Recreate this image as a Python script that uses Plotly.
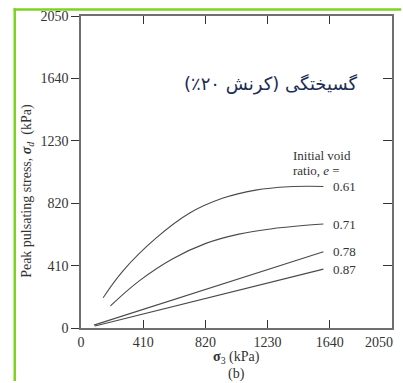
import plotly.graph_objects as go

# Confining pressure sigma_3 (kPa) and peak pulsating stress sigma_d (kPa)
# for each initial void ratio
void_ratios = ["0.61", "0.71", "0.78", "0.87"]

x_061 = [146, 277, 496, 714, 932, 1151, 1369, 1598]
y_061 = [199, 376, 592, 754, 852, 906, 928, 930]

x_071 = [194, 386, 605, 823, 1041, 1260, 1430, 1598]
y_071 = [145, 311, 455, 556, 617, 652, 670, 683]

x_078 = [85, 1598]
y_078 = [19, 501]

x_087 = [92, 1598]
y_087 = [13, 387]

tick_vals = [0, 410, 820, 1230, 1640, 2050]
tick_text = ["0", "410", "820", "1230", "1640", ""]

series = [(x_061, y_061), (x_071, y_071), (x_078, y_078), (x_087, y_087)]

SERIF = "Liberation Serif, Times New Roman, serif"
TXT = "#333333"
AXIS = "#6f6f6f"

fig = go.Figure()
for (xs, ys), lab in zip(series, void_ratios):
    fig.add_trace(go.Scatter(
        x=xs, y=ys, mode="lines", name=lab,
        line=dict(color="#4a4a4a", width=1.1, shape="spline", smoothing=1.1),
        showlegend=False, hoverinfo="skip",
    ))

# invisible traces carrying the right-hand inner ticks and the last x label
fig.add_trace(go.Scatter(x=[None], y=[None], yaxis="y2", showlegend=False))
fig.add_trace(go.Scatter(x=[None], y=[None], xaxis="x2", showlegend=False))

# curve labels at the end of each line
for (xs, ys), lab in zip(series, void_ratios):
    fig.add_annotation(x=1650, y=ys[-1], text=lab, showarrow=False,
                       xanchor="left", yanchor="middle",
                       font=dict(family=SERIF, size=13, color=TXT))

fig.add_annotation(x=1385, y=1135, text="Initial void", showarrow=False,
                   xanchor="left", yanchor="middle",
                   font=dict(family=SERIF, size=13, color=TXT))
fig.add_annotation(x=1385, y=1032, text="ratio, <i>e</i> =", showarrow=False,
                   xanchor="left", yanchor="middle",
                   font=dict(family=SERIF, size=13, color=TXT))

# Persian caption: failure (20% strain)
fig.add_annotation(x=1830, y=1600, text="گسیختگی (کرنش ۲۰٪)", showarrow=False,
                   xanchor="right", yanchor="middle",
                   font=dict(family="DejaVu Sans", size=18, color="#1c2b57"))

# axis titles
fig.add_annotation(xref="paper", yref="paper", x=-0.17, y=0.44,
                   text="Peak pulsating stress, <i><b>σ</b><sub>d</sub></i>  (kPa)",
                   textangle=-90, showarrow=False, xanchor="center", yanchor="middle",
                   font=dict(family=SERIF, size=14, color=TXT))
fig.add_annotation(xref="paper", yref="paper", x=0.5, y=-0.094,
                   text="<b>σ</b><sub>3</sub> (kPa)", showarrow=False,
                   xanchor="center", yanchor="middle",
                   font=dict(family=SERIF, size=14, color=TXT))
fig.add_annotation(xref="paper", yref="paper", x=0.5, y=-0.146,
                   text="(b)", showarrow=False, xanchor="center", yanchor="middle",
                   font=dict(family=SERIF, size=14, color=TXT))

# green frame around the figure
fig.add_shape(type="line", xref="paper", yref="paper",
              x0=-0.213, x1=-0.213, y0=-0.17, y1=1.025,
              line=dict(color="#7ed321", width=2.5))
fig.add_shape(type="line", xref="paper", yref="paper",
              x0=-0.217, x1=1.03, y0=1.021, y1=1.021,
              line=dict(color="#7ed321", width=2.5))

axis_font = dict(family=SERIF, size=14, color=TXT)

fig.update_layout(
    width=403, height=383,
    margin=dict(l=81, r=9, t=12, b=55),
    paper_bgcolor="white", plot_bgcolor="white",
    font=dict(family=SERIF, size=14, color=TXT),
    xaxis=dict(range=[0, 2050], tickvals=tick_vals, ticktext=tick_text,
               ticks="inside", ticklen=8, mirror="ticks",
               tickcolor="#333", tickwidth=1.3, showline=True,
               linecolor=AXIS, linewidth=1.6, showgrid=False, zeroline=False,
               tickfont=axis_font),
    # the last x label, pulled inside the figure edge
    xaxis2=dict(range=[0, 2050], tickvals=[2050], ticktext=["2050"],
                overlaying="x", side="bottom", ticks="", showline=False,
                showgrid=False, zeroline=False, tickfont=axis_font,
                ticklabelshift=-13, ticklabelstandoff=4,
                ticklabeloverflow="allow", anchor="y"),
    yaxis=dict(range=[0, 2050], tickvals=tick_vals, ticks="outside", ticklen=8,
               tickcolor="#333", tickwidth=1.3, mirror=True, showline=True,
               linecolor=AXIS, linewidth=1.6, showgrid=False, zeroline=False,
               tickfont=axis_font),
    yaxis2=dict(range=[0, 2050], tickvals=tick_vals, ticks="inside", ticklen=9,
                tickcolor="#333", tickwidth=1.3, overlaying="y", side="right",
                showticklabels=False, showgrid=False, zeroline=False,
                showline=False),
)

fig.write_html("out.html")
